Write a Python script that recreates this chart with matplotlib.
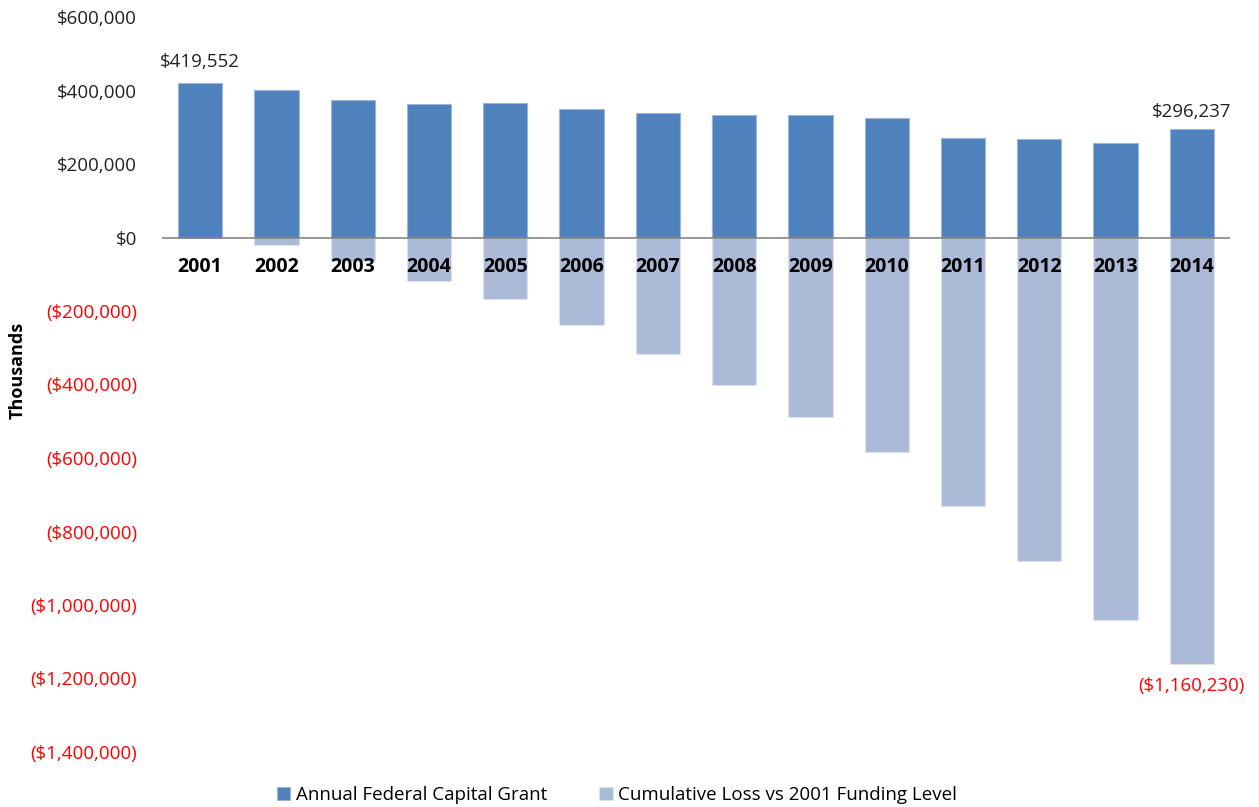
import numpy as np
import matplotlib.pyplot as plt
from matplotlib.ticker import FuncFormatter

years = ["2001", "2002", "2003", "2004", "2005", "2006", "2007",
         "2008", "2009", "2010", "2011", "2012", "2013", "2014"]
annual_grant = [419552, 400000, 375000, 364000, 367000, 351000, 340000,
                334000, 332000, 326000, 272000, 269000, 258000, 296237]
cumulative_loss = [0, -19500, -64000, -118000, -168000, -237000, -316000,
                   -402000, -488000, -583000, -730000, -880000, -1040000, -1160230]

dark_blue = "#4F81BD"
light_blue = "#AABAD7"

plt.rcParams['font.family'] = ['Open Sans', 'DejaVu Sans']

fig = plt.figure(figsize=(12.59, 8.07), dpi=100)
ax = fig.add_axes([162 / 1259, 1 - 752 / 807, (1230 - 162) / 1259, (752 - 17) / 807])

x = np.arange(len(years))
w = 0.58
ax.bar(x, cumulative_loss, width=w, color=light_blue, edgecolor="#DCE3EF", linewidth=0.8,
       label="Cumulative Loss vs 2001 Funding Level", zorder=2)
ax.bar(x, annual_grant, width=w, color=dark_blue, edgecolor="#9DB5D8", linewidth=0.8,
       label="Annual Federal Capital Grant", zorder=2)
ax.axhline(0, color="#868686", linewidth=1.2, zorder=3)

ax.set_xlim(-0.5, len(years) - 0.5)
ax.set_ylim(-1400000, 600000)
ax.set_yticks(np.arange(-1400000, 600001, 200000))


def money(v, pos=None):
    if v < 0:
        return "(${:,.0f})".format(-v)
    return "${:,.0f}".format(v)


ax.yaxis.set_major_formatter(FuncFormatter(money))
ax.tick_params(axis="y", length=0, pad=18, labelsize=13.5)
for lbl, v in zip(ax.get_yticklabels(), ax.get_yticks()):
    lbl.set_color("#FF0000" if v < 0 else "#222222")
ax.set_xticks([])
for s in ax.spines.values():
    s.set_visible(False)

# year labels sit just under the zero line, over the bars
for xi, yr in zip(x, years):
    ax.annotate(yr, (xi, 0), xytext=(0, -21), textcoords="offset points",
                ha="center", va="center", fontsize=14, fontweight="bold", zorder=4)

ax.annotate(money(annual_grant[0]), (x[0], annual_grant[0]), xytext=(0, 15),
            textcoords="offset points", ha="center", va="center", fontsize=13.5, color="#222222")
ax.annotate(money(annual_grant[-1]), (x[-1], annual_grant[-1]), xytext=(0, 12),
            textcoords="offset points", ha="center", va="center", fontsize=13.5, color="#222222")
ax.annotate(money(cumulative_loss[-1]), (x[-1], cumulative_loss[-1]), xytext=(0, -16),
            textcoords="offset points", ha="center", va="center", fontsize=13.5, color="#FF0000")

fig.text(18 / 1259, 1 - 370 / 807, "Thousands", rotation=90, ha="center", va="center",
         fontsize=13, fontweight="bold")

handles, labels = ax.get_legend_handles_labels()
fig.legend(handles[::-1], labels[::-1], loc="center", bbox_to_anchor=(617 / 1259, 1 - 795 / 807),
           ncol=2, frameon=False, fontsize=13.5, handlelength=0.7, handleheight=0.7,
           handletextpad=0.3, columnspacing=2.8)

fig.savefig("out.png", dpi=100)
